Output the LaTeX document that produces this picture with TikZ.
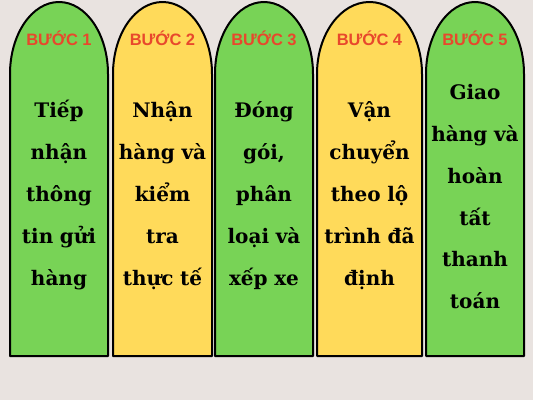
\documentclass[tikz,border=0pt]{standalone}
\usepackage{fontspec}
\setmainfont{DejaVu Serif}
\setsansfont{Liberation Sans}
\definecolor{bgpaper}{RGB}{233,227,224}
\definecolor{stepgreen}{RGB}{120,211,86}
\definecolor{stepyellow}{RGB}{255,218,90}
\definecolor{stepred}{RGB}{232,72,44}
\begin{document}
\begin{tikzpicture}[x=1pt, y=1pt, line join=round, line cap=round,
	panel/.style={draw=black, line width=2pt},
	head/.style={font=\sffamily\bfseries\fontsize{16.5}{20}\selectfont, text=stepred, anchor=base, inner sep=0pt},
	body/.style={font=\bfseries\fontsize{20}{42}\selectfont, text width=100pt, align=center, anchor=base, inner sep=0pt}]
	\fill[bgpaper] (0,0) rectangle (533,400);
	\useasboundingbox (0,0) rectangle (533,400);
	\foreach \i/\xl/\xr/\col/\ty/\txt in {
		1/10/108/stepgreen/283/{Tiếp\\nhận\\thông\\tin gửi\\hàng},
		2/113/212/stepyellow/283/{Nhận\\hàng và\\kiểm\\tra\\thực tế},
		3/215/313/stepgreen/283/{Đóng\\gói,\\phân\\loại và\\xếp xe},
		4/317/422/stepyellow/283/{Vận\\chuyển\\theo lộ\\trình đã\\định},
		5/426/524/stepgreen/301/{Giao\\hàng và\\hoàn\\tất\\thanh\\toán}}
	{
		\draw[panel, fill=\col] (\xl,44) -- (\xl,326)
			arc[start angle=180, end angle=0, x radius={(\xr-\xl)/2}, y radius=72] -- (\xr,44) -- cycle;
		\node[head] (head\i) at ({(\xl+\xr)/2},354) {BƯỚC \i};
		\node[body] (body\i) at ({(\xl+\xr)/2},\ty) {\txt};
	}
\end{tikzpicture}
\end{document}
